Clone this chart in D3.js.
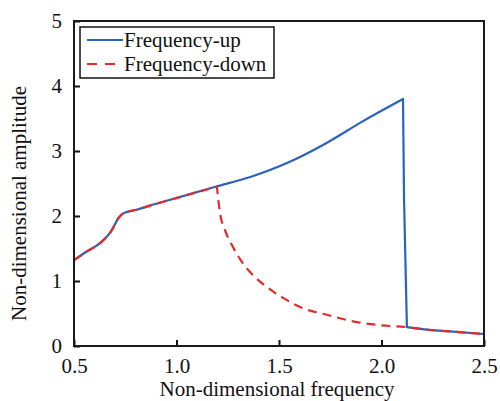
<!DOCTYPE html>
<html>
<head>
<meta charset="utf-8">
<script src="https://cdn.jsdelivr.net/npm/d3@7"></script>
<style>
  html, body { margin: 0; padding: 0; background: #fff; }
  svg { display: block; }
</style>
</head>
<body>
<svg id="chart" width="500" height="401"></svg>
<script>
// ---- data ----
const upX = [0.5, 0.56, 0.63, 0.68, 0.72, 0.74, 0.81, 0.87, 0.97, 1.19, 1.36, 1.55, 1.73, 1.91, 2.105, 2.11, 2.124, 2.2, 2.35, 2.5];
const upY = [1.32, 1.45, 1.59, 1.76, 1.98, 2.04, 2.10, 2.16, 2.25, 2.45, 2.60, 2.83, 3.12, 3.46, 3.80, 2.25, 0.29, 0.26, 0.22, 0.185];
const downX = [0.5, 0.56, 0.63, 0.68, 0.72, 0.74, 0.81, 0.87, 0.97, 1.197, 1.212, 1.237, 1.276, 1.32, 1.373, 1.44, 1.52, 1.617, 1.734, 1.861, 1.993, 2.124, 2.2, 2.35, 2.5];
const downY = [1.32, 1.45, 1.59, 1.76, 1.98, 2.04, 2.10, 2.16, 2.25, 2.45, 2.05, 1.78, 1.52, 1.29, 1.09, 0.91, 0.74, 0.58, 0.48, 0.38, 0.32, 0.29, 0.26, 0.22, 0.185];
const xTicks = [0.5, 1.0, 1.5, 2.0, 2.5];
const yTicks = [0, 1, 2, 3, 4, 5];
const seriesNames = ["Frequency-up", "Frequency-down"];
const xLabel = "Non-dimensional frequency";
const yLabel = "Non-dimensional amplitude";

// ---- pick an installed serif font ----
function pickFont(cands) {
  const c = document.createElement("canvas").getContext("2d");
  const s = "Non-dimensional frequency 0123456789 Wmlij";
  c.font = "40px monospace"; const wm = c.measureText(s).width;
  c.font = "40px sans-serif"; const ws = c.measureText(s).width;
  for (const f of cands) {
    c.font = `40px "${f}", monospace`; const a = c.measureText(s).width;
    c.font = `40px "${f}", sans-serif`; const b = c.measureText(s).width;
    if (a !== wm || b !== ws) return `"${f}"`;
  }
  return "serif";
}
const FONT = pickFont(["Liberation Serif", "Times New Roman", "Tinos", "Times", "DejaVu Serif", "Noto Serif"]) + ", serif";

// ---- layout ----
const L = 74, R = 484, T = 21, B = 346;
const blue = "#2a62bf", red = "#e52a2a";
const svg = d3.select("#chart");
const x = d3.scaleLinear().domain([0.5, 2.5]).range([L, R]);
const y = d3.scaleLinear().domain([0, 5]).range([B, T]);

// axes (ticks inward)
const xAxis = d3.axisBottom(x).tickValues(xTicks).tickFormat(d3.format(".1f")).tickSizeInner(-6).tickSizeOuter(0).tickPadding(12);
const yAxis = d3.axisLeft(y).tickValues(yTicks).tickFormat(d3.format("d")).tickSizeInner(-6).tickSizeOuter(0).tickPadding(12);

const gx = svg.append("g").attr("transform", `translate(0,${B})`).call(xAxis);
const gy = svg.append("g").attr("transform", `translate(${L},0)`).call(yAxis);
[gx, gy].forEach(g => {
  g.attr("font-family", FONT).attr("font-size", 21);
  g.select(".domain").remove();
  g.selectAll(".tick line").attr("stroke", "#111").attr("stroke-width", 2);
  g.selectAll(".tick text").attr("fill", "#111").attr("font-family", FONT).attr("font-size", 21);
});
gx.selectAll(".tick text").attr("dy", "0.71em");

// lines: piecewise smooth, joined into one path each
const mono = d3.line().x(d => x(d[0])).y(d => y(d[1])).curve(d3.curveMonotoneX);
const lin = d3.line().x(d => x(d[0])).y(d => y(d[1]));
function joinPaths(parts) {
  return parts.map((p, i) => {
    const s = p.gen(p.data);
    return i === 0 ? s : "L" + s.slice(1);
  }).join("");
}
const upData = upX.map((v, i) => [v, upY[i]]);
const downData = downX.map((v, i) => [v, downY[i]]);
const peakI = upY.indexOf(d3.max(upY));
const dropEndI = peakI + 2;
const upPath = joinPaths([
  { gen: mono, data: upData.slice(0, peakI + 1) },
  { gen: lin, data: upData.slice(peakI, dropEndI + 1) },
  { gen: mono, data: upData.slice(dropEndI) }
]);
const jumpI = downY.indexOf(d3.max(downY));
const downPath = joinPaths([
  { gen: mono, data: downData.slice(0, jumpI + 1) },
  { gen: mono, data: downData.slice(jumpI) }
]);

svg.append("path").attr("d", upPath).attr("fill", "none")
  .attr("stroke", blue).attr("stroke-width", 2.2).attr("stroke-linejoin", "round");
svg.append("path").attr("d", downPath).attr("fill", "none")
  .attr("stroke", red).attr("stroke-width", 2.2).attr("stroke-dasharray", "9,6");

// frame
svg.append("rect").attr("x", L).attr("y", T).attr("width", R - L).attr("height", B - T)
  .attr("fill", "none").attr("stroke", "#1a1a1a").attr("stroke-width", 2);

// axis labels
svg.append("text").attr("x", (L + R) / 2 - 2).attr("y", 396).attr("text-anchor", "middle")
  .attr("font-size", 21).attr("font-family", FONT).attr("fill", "#111").text(xLabel);
svg.append("text").attr("transform", `translate(26,${(T + B) / 2 + 20}) rotate(-90)`).attr("text-anchor", "middle")
  .attr("font-size", 21).attr("font-family", FONT).attr("fill", "#111").text(yLabel);

// legend
const lg = svg.append("g");
lg.append("rect").attr("x", 80).attr("y", 27).attr("width", 194).attr("height", 51)
  .attr("fill", "#fff").attr("stroke", "#111").attr("stroke-width", 1.5);
const legendRows = [
  { name: seriesNames[0], color: blue, dash: null, yy: 40 },
  { name: seriesNames[1], color: red, dash: "10,8", yy: 64 }
];
legendRows.forEach(r => {
  lg.append("line").attr("x1", 87).attr("x2", 123).attr("y1", r.yy).attr("y2", r.yy)
    .attr("stroke", r.color).attr("stroke-width", 2.2).attr("stroke-dasharray", r.dash);
  lg.append("text").attr("x", 124).attr("y", r.yy + 7).attr("font-size", 21).attr("font-family", FONT)
    .attr("fill", "#111").text(r.name);
});
</script>
</body>
</html>
